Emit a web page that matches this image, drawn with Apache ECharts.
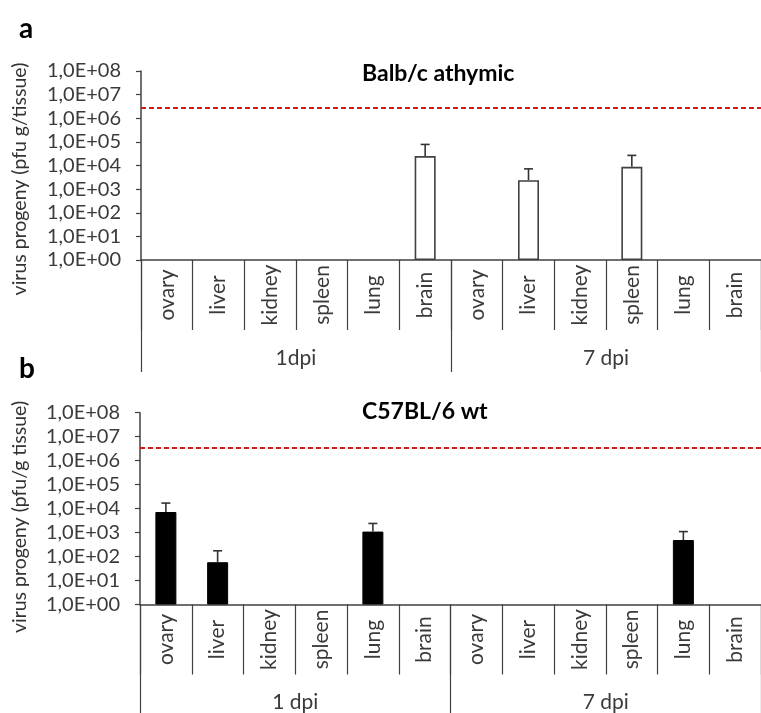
<!DOCTYPE html>
<html>
<head>
<meta charset="utf-8">
<script src="https://cdn.jsdelivr.net/npm/echarts@6/dist/echarts.min.js"></script>
<style>
  html, body { margin: 0; padding: 0; background: #fff; }
  #chart { width: 761px; height: 713px; }
</style>
</head>
<body>
<div id="chart"></div>
<script>
// Organs sampled at each time point, repeated for 1 and 7 days post infection
const organs = ['ovary', 'liver', 'kidney', 'spleen', 'lung', 'brain'];
const categories = organs.concat(organs);
const groupsA = ['1dpi', '7 dpi'];
const groupsB = ['1 dpi', '7 dpi'];

// Panel a: Balb/c athymic mice, mean titres (pfu/g) and SD (null = not detected)
const athymicMean = [null, null, null, null, null, 2.5e4, null, 2.4e3, null, 8.8e3, null, null];
const athymicSD   = [null, null, null, null, null, 5.3e4, null, 4.8e3, null, 1.8e4, null, null];
const athymicDose = 2.8e6;

// Panel b: C57BL/6 wild-type mice
const wtMean = [7.2e3, 58, null, null, 1.1e3, null, null, null, null, null, 490, null];
const wtSD   = [9.8e3, 116, null, null, 1.3e3, null, null, null, null, null, 610, null];
const wtDose = 3.6e6;

const FONT = 'Lato, "Open Sans", sans-serif';
const AXIS = '#404040';
const LABEL = '#3a3a3a';

function sciLabel(v) {
  const e = Math.round(Math.log10(v));
  return '1,0E+' + (e < 10 ? '0' : '') + e;
}

function errorSeries(idx, mean, sd) {
  return {
    type: 'custom',
    xAxisIndex: idx * 2,
    yAxisIndex: idx,
    z: 3,
    data: mean.map((m, i) => (m == null ? [i, null, null] : [i, m, m + sd[i]])),
    renderItem(params, api) {
      if (api.value(1) == null || isNaN(api.value(1))) return;
      const base = api.coord([api.value(0), api.value(1)]);
      const top = api.coord([api.value(0), api.value(2)]);
      const cap = 4.5;
      const style = { stroke: '#333', lineWidth: 1.6 };
      return {
        type: 'group',
        children: [
          { type: 'line', shape: { x1: base[0], y1: base[1], x2: top[0], y2: top[1] }, style },
          { type: 'line', shape: { x1: top[0] - cap, y1: top[1], x2: top[0] + cap, y2: top[1] }, style }
        ]
      };
    }
  };
}

function barSeries(idx, mean, filled, dose) {
  return {
    type: 'bar',
    xAxisIndex: idx * 2,
    yAxisIndex: idx,
    barWidth: 21,
    z: 2,
    data: mean.map(v => (v == null ? '-' : v)),
    itemStyle: filled
      ? { color: '#000', borderColor: '#000', borderWidth: 1 }
      : { color: '#fff', borderColor: '#404040', borderWidth: 1.6 },
    markLine: {
      silent: true,
      symbol: 'none',
      label: { show: false },
      lineStyle: { color: '#d41a1a', width: 2, type: [5, 3] },
      data: [{ yAxis: dose }]
    }
  };
}

function catAxis(grid) {
  return {
    type: 'category',
    gridIndex: grid,
    data: categories,
    axisLine: { lineStyle: { color: AXIS, width: 1.5 } },
    axisTick: { show: true, interval: 0, length: 70, lineStyle: { color: AXIS, width: 1.2 } },
    axisLabel: {
      interval: 0, rotate: 90, margin: 35, align: 'center', verticalAlign: 'middle',
      color: LABEL, fontFamily: FONT, fontSize: 21
    }
  };
}

function groupAxis(grid, groups, tickLen) {
  return {
    type: 'category',
    gridIndex: grid,
    data: groups,
    position: 'bottom',
    axisLine: { show: false },
    axisTick: { show: true, interval: 0, length: tickLen, lineStyle: { color: AXIS, width: 1.2 } },
    axisLabel: {
      interval: 0, margin: 98, verticalAlign: 'middle',
      color: LABEL, fontFamily: FONT, fontSize: 21
    }
  };
}

function logAxis(grid) {
  return {
    type: 'log',
    gridIndex: grid,
    logBase: 10,
    min: 1,
    max: 1e8,
    splitNumber: 8,
    splitLine: { show: false },
    axisLine: { show: true, lineStyle: { color: AXIS, width: 1.5 } },
    axisTick: { show: true, length: 5, lineStyle: { color: AXIS, width: 1.2 } },
    axisLabel: { margin: 20, color: LABEL, fontFamily: FONT, fontSize: 20, formatter: sciLabel }
  };
}

const chart = echarts.init(document.getElementById('chart'), null, { renderer: 'canvas' });

chart.setOption({
  animation: false,
  backgroundColor: '#fff',
  grid: [
    { left: 141, top: 71, width: 626, height: 189 },
    { left: 140, top: 412.7, width: 625, height: 194.6 }
  ],
  xAxis: [
    catAxis(0), groupAxis(0, groupsA, 112),
    catAxis(1), groupAxis(1, groupsB, 120)
  ],
  yAxis: [logAxis(0), logAxis(1)],
  series: [
    barSeries(0, athymicMean, false, athymicDose),
    errorSeries(0, athymicMean, athymicSD),
    barSeries(1, wtMean, true, wtDose),
    errorSeries(1, wtMean, wtSD)
  ],
  graphic: [
    { type: 'text', left: 19, top: 15, style: { text: 'a', font: 'bold 28px ' + FONT, fill: '#000' } },
    { type: 'text', left: 19, top: 355, style: { text: 'b', font: 'bold 28px ' + FONT, fill: '#000' } },
    { type: 'text', x: 362, y: 74, style: { text: 'Balb/c athymic', font: 'bold 23px ' + FONT, fill: '#000', textVerticalAlign: 'middle' } },
    { type: 'text', x: 362, y: 412, style: { text: 'C57BL/6 wt', font: 'bold 23px ' + FONT, fill: '#000', textVerticalAlign: 'middle' } },
    {
      type: 'text', x: 20, y: 179, rotation: Math.PI / 2,
      style: { text: 'virus progeny (pfu g/tissue)', font: '19.5px ' + FONT, fill: '#333', textAlign: 'center', textVerticalAlign: 'middle' }
    },
    {
      type: 'text', x: 20, y: 517, rotation: Math.PI / 2,
      style: { text: 'virus progeny (pfu/g tissue)', font: '19.5px ' + FONT, fill: '#333', textAlign: 'center', textVerticalAlign: 'middle' }
    }
  ]
});
</script>
</body>
</html>
